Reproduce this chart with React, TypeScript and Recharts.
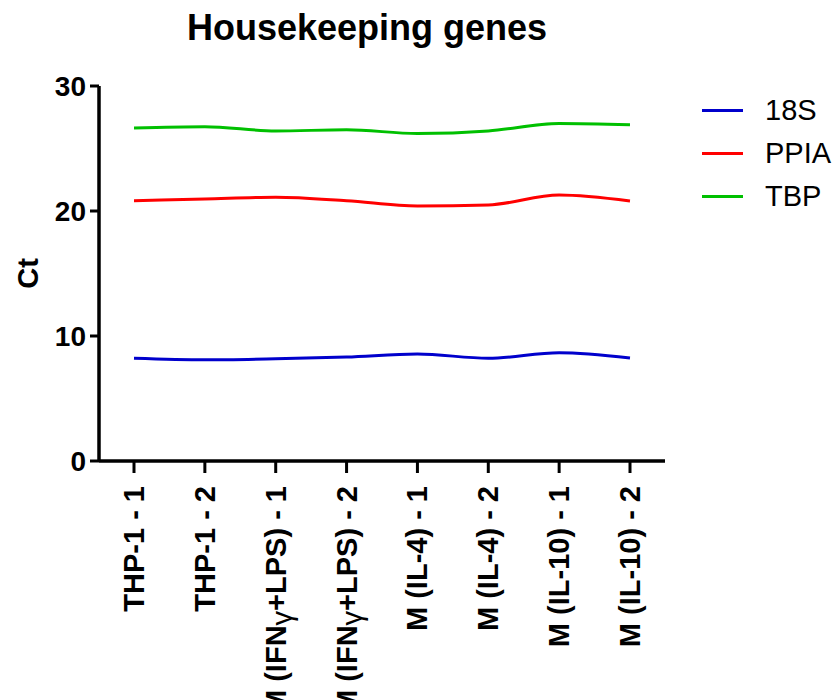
import React from 'react';
import { LineChart, Line, XAxis, YAxis, Legend } from 'recharts';

const categories = [
  'THP-1 - 1',
  'THP-1 - 2',
  'M (IFNγ+LPS) - 1',
  'M (IFNγ+LPS) - 2',
  'M (IL-4) - 1',
  'M (IL-4) - 2',
  'M (IL-10) - 1',
  'M (IL-10) - 2',
];
const values18S = [8.22, 8.1, 8.18, 8.32, 8.56, 8.22, 8.66, 8.24];
const valuesPPIA = [20.82, 20.96, 21.1, 20.82, 20.4, 20.48, 21.28, 20.8];
const valuesTBP = [26.64, 26.75, 26.4, 26.5, 26.2, 26.4, 27.0, 26.9];
const yTicks = [0, 10, 20, 30];
const seriesNames = ['18S', 'PPIA', 'TBP'];
const seriesColors = ['#0000CC', '#FF0000', '#00C000'];
const titleText = 'Housekeeping genes';
const yLabelText = 'Ct';

const FONT = '"Liberation Sans", Arial, sans-serif';

const seriesValues = [values18S, valuesPPIA, valuesTBP];
const data = categories.map((c, i) => {
  const row: any = { name: c };
  seriesNames.forEach((s, k) => {
    row[s] = seriesValues[k][i];
  });
  return row;
});

const XTick = (props: any) => {
  const { x, y, payload } = props;
  const label = String(payload.value);
  const parts = label.split('γ');
  return (
    <text
      x={x}
      y={y}
      transform={`rotate(-90 ${x} ${y})`}
      textAnchor="end"
      dominantBaseline="central"
      fontFamily={FONT}
      fontSize={29}
      fontWeight="bold"
      fill="#000"
    >
      {parts.length > 1 ? (
        <>
          <tspan>{parts[0]}</tspan>
          <tspan fontWeight="normal" dy="0.2em">γ</tspan>
          <tspan dy="-0.2em">{parts[1]}</tspan>
        </>
      ) : (
        label
      )}
    </text>
  );
};

const LegendContent = (props: any) => {
  const payload = props.payload || [];
  return (
    <div style={{ width: 175 }}>
      {payload.map((p: any) => (
        <div key={p.value} style={{ position: 'relative', height: 43 }}>
          <div
            style={{
              position: 'absolute',
              left: 37,
              top: 20,
              width: 41,
              height: 3,
              background: p.color,
            }}
          />
          <div
            style={{
              position: 'absolute',
              left: 100,
              top: 0,
              lineHeight: '43px',
              fontSize: 29,
              fontFamily: FONT,
              color: '#000',
              whiteSpace: 'nowrap',
            }}
          >
            {p.value}
          </div>
        </div>
      ))}
    </div>
  );
};

const YLabel = (props: any) => {
  const vb = props.viewBox || { x: 0, y: 0, width: 0, height: 0 };
  const x = vb.x + 28;
  const y = vb.y + vb.height / 2;
  return (
    <text
      x={x}
      y={y}
      transform={`rotate(-90 ${x} ${y})`}
      textAnchor="middle"
      dominantBaseline="central"
      fontFamily={FONT}
      fontSize={29}
      fontWeight="bold"
      fill="#000"
    >
      {yLabelText}
    </text>
  );
};

export default function App() {
  return (
    <div style={{ position: 'relative', width: 840, height: 700, overflow: 'hidden' }}>
      <style>{`body{margin:0;background:#fff;}`}</style>
      <LineChart
        width={840}
        height={700}
        data={data}
        margin={{ top: 86, right: 0, bottom: 0, left: 0 }}
      >
        <XAxis
          dataKey="name"
          interval={0}
          height={239}
          padding={{ left: 35, right: 35 }}
          tick={<XTick />}
          tickSize={12}
          tickMargin={13}
          axisLine={{ stroke: '#000', strokeWidth: 3.5 }}
          tickLine={{ stroke: '#000', strokeWidth: 3 }}
        />
        <YAxis
          width={99}
          domain={[0, 30]}
          ticks={yTicks}
          interval={0}
          tickSize={9}
          tickMargin={4}
          axisLine={{ stroke: '#000', strokeWidth: 3.5 }}
          tickLine={{ stroke: '#000', strokeWidth: 3 }}
          tick={{ fill: '#000', fontSize: 28, fontWeight: 'bold', fontFamily: FONT }}
          label={{ content: <YLabel /> }}
        />
        <Legend
          layout="vertical"
          align="right"
          verticalAlign="top"
          width={175}
          wrapperStyle={{ left: 665, top: 89, width: 175 }}
          content={<LegendContent />}
        />
        {seriesNames.map((s, k) => (
          <Line
            key={s}
            type="monotone"
            dataKey={s}
            name={s}
            stroke={seriesColors[k]}
            strokeWidth={3}
            dot={false}
            activeDot={false}
            isAnimationActive={false}
          />
        ))}
      </LineChart>
      <svg
        width={840}
        height={70}
        style={{ position: 'absolute', left: 0, top: 0, pointerEvents: 'none' }}
      >
        <text
          x={367}
          y={40}
          textAnchor="middle"
          fontFamily={FONT}
          fontSize={36}
          fontWeight="bold"
          fill="#000"
        >
          {titleText}
        </text>
      </svg>
    </div>
  );
}
